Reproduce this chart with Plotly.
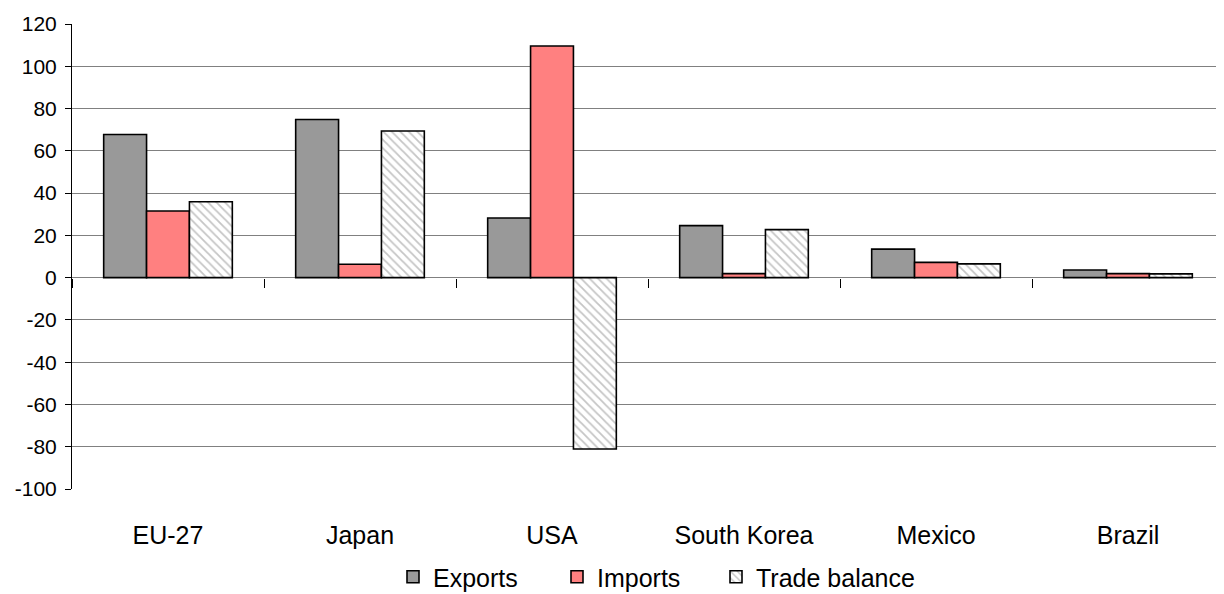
import plotly.graph_objects as go

categories = ["EU-27", "Japan", "USA", "South Korea", "Mexico", "Brazil"]
exports = [67.7, 74.8, 28.2, 24.6, 13.5, 3.6]
imports = [31.5, 6.3, 109.6, 1.9, 7.2, 1.9]
trade_balance = [35.9, 69.4, -81.1, 22.7, 6.5, 1.8]
y_ticks = [-100, -80, -60, -40, -20, 0, 20, 40, 60, 80, 100, 120]
y_tick_labels = [str(v) for v in y_ticks]

outline = dict(color="black", width=1.6)

fig = go.Figure()
fig.add_trace(go.Bar(name="Exports", x=categories, y=exports, legend="legend",
                     marker=dict(color="#999999", line=outline)))
fig.add_trace(go.Bar(name="Imports", x=categories, y=imports, legend="legend2",
                     marker=dict(color="#FF8080", line=outline)))
fig.add_trace(go.Bar(name="Trade balance", x=categories, y=trade_balance, legend="legend3",
                     marker=dict(color="white", line=outline,
                                 pattern=dict(shape="\\", fgcolor="#8c8c8c",
                                              bgcolor="white", size=6, solidity=0.3))))
# helper trace to carry the categories on the zero-line axis
fig.add_trace(go.Scatter(x=categories, y=[0] * len(categories), xaxis="x2",
                         mode="markers", marker=dict(opacity=0), showlegend=False,
                         hoverinfo="skip"))

leg_common = dict(orientation="h", xref="container", yref="container",
                  xanchor="left", y=0.029, yanchor="middle",
                  font=dict(size=25), itemwidth=30, bgcolor="rgba(0,0,0,0)")

fig.update_layout(
    width=1216, height=586,
    margin=dict(l=64, r=0, t=16, b=105),
    paper_bgcolor="white", plot_bgcolor="white",
    barmode="group", bargap=0.33, bargroupgap=0,
    font=dict(family="Liberation Sans, Arial, sans-serif", color="black"),
    xaxis=dict(categoryorder="array", categoryarray=categories,
               showline=False, showgrid=False, ticks="",
               tickfont=dict(size=25),
               ticklabelstandoff=29),
    xaxis2=dict(overlaying="x", matches="x", anchor="free", position=100 / 220,
                categoryorder="array", categoryarray=categories,
                showline=False, showgrid=False, showticklabels=False,
                ticks="outside", tickson="boundaries", ticklen=9,
                tickcolor="black", tickwidth=1),
    yaxis=dict(range=[-100, 120], tickvals=y_ticks, ticktext=y_tick_labels,
               showline=True, linecolor="black",
               linewidth=1, ticks="outside", ticklen=6, tickcolor="black",
               showgrid=True, gridcolor="#808080", gridwidth=1, zeroline=False,
               tickfont=dict(size=21), ticklabelstandoff=4),
    legend=dict(x=385 / 1216, **leg_common),
    legend2=dict(x=549 / 1216, **leg_common),
    legend3=dict(x=708 / 1216, **leg_common),
)

fig.write_html("out.html")
